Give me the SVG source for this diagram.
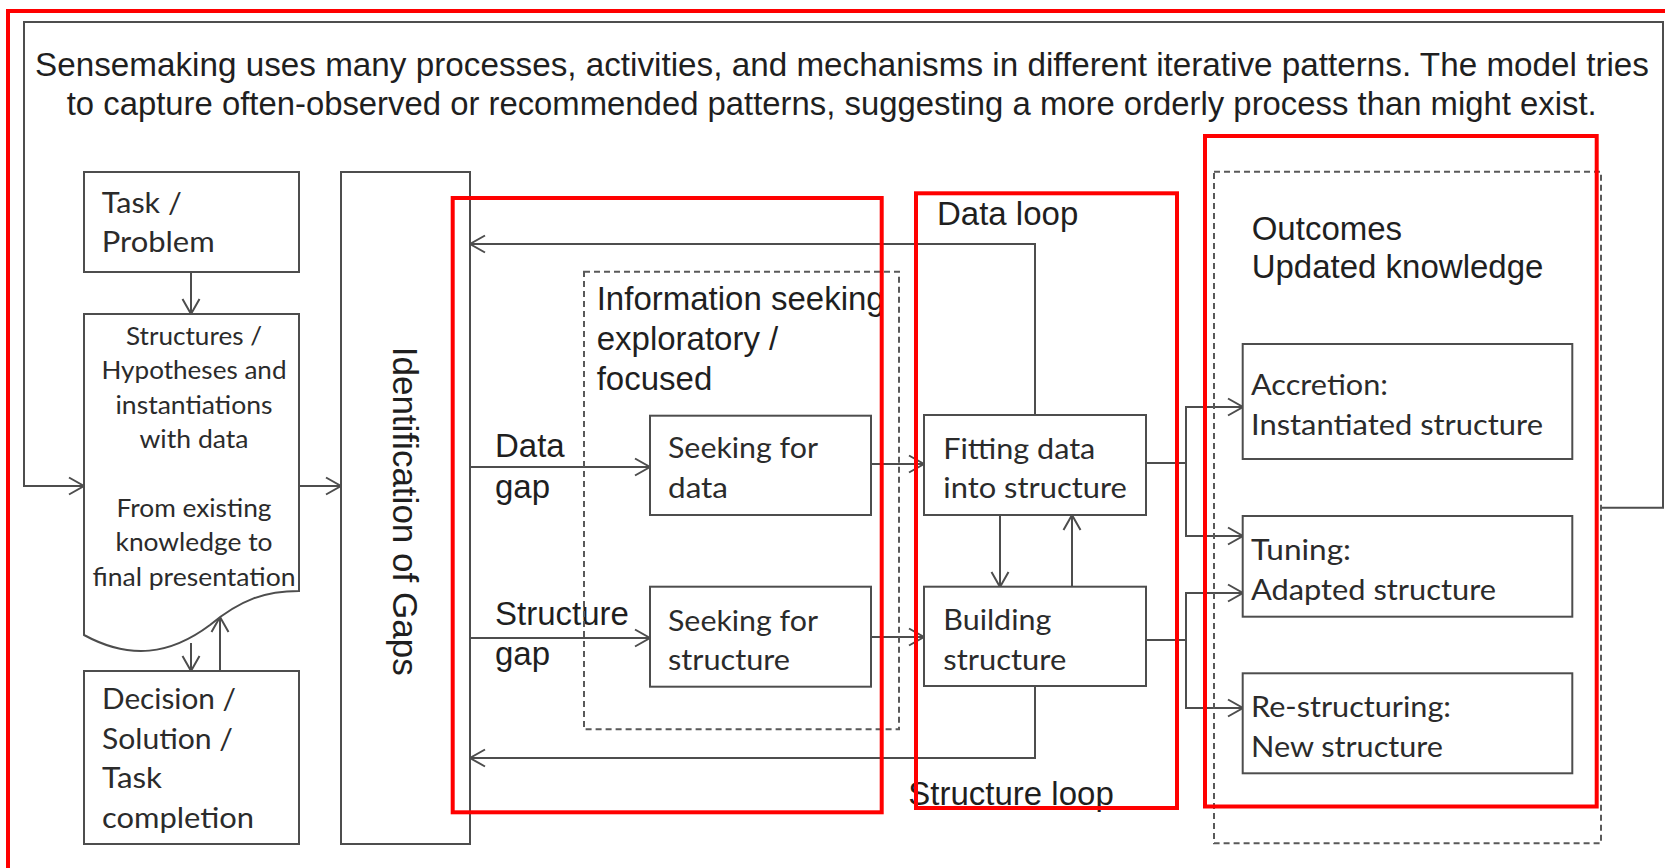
<svg xmlns="http://www.w3.org/2000/svg" width="1665" height="868" viewBox="0 0 1665 868">
<defs>
<style>
.bx{fill:#fff;stroke:#4d4d4d;stroke-width:2}
.ds{fill:none;stroke:#595959;stroke-width:2;stroke-dasharray:6 4}
.rd{fill:none;stroke:#ff0000;stroke-width:4}
.c{fill:none;stroke:#4d4d4d;stroke-width:2}
.a{marker-end:url(#arr)}
.ar{font-family:"Liberation Sans",Arial,sans-serif;font-size:33px;fill:#1f1f1f}
.cb{font-family:Lato,"Noto Sans",sans-serif;font-size:29.7px;fill:#2b2b2b}
.cs{font-family:Lato,"Noto Sans",sans-serif;font-size:25.4px;fill:#2b2b2b;text-anchor:middle}
</style>
<marker id="arr" viewBox="-18 -11 20 22" markerWidth="20" markerHeight="22" refX="0" refY="0" orient="auto" markerUnits="userSpaceOnUse">
<path d="M-15,-8.5 L0,0 L-15,8.5" fill="none" stroke="#4d4d4d" stroke-width="2"/>
</marker>
</defs>
<rect width="1665" height="868" fill="#fff"/>

<g id="title">
<text class="ar" style="font-size:34px" x="35" y="75.5" textLength="1614" lengthAdjust="spacingAndGlyphs">Sensemaking uses many processes, activities, and mechanisms in different iterative patterns. The model tries</text>
<text class="ar" style="font-size:34px" x="66.7" y="115" textLength="1530" lengthAdjust="spacingAndGlyphs">to capture often-observed or recommended patterns, suggesting a more orderly process than might exist.</text>
</g>

<g id="connectors">
<path class="c a" d="M1601,507.7 H1663 V22 H24 V486 H84"/>
<path class="c a" d="M191,272 V314"/>
<path class="c a" d="M299,486 H341"/>
<path class="c a" d="M191,643 V671"/>
<path class="c a" d="M220,671 V617"/>
<path class="c a" d="M470,467 H650"/>
<path class="c a" d="M470,638 H650"/>
<path class="c a" d="M871,464 H924"/>
<path class="c a" d="M871,637 H924"/>
<path class="c a" d="M1000,515 V587"/>
<path class="c a" d="M1072,587 V515"/>
<path class="c a" d="M1035,415 V244 H470"/>
<path class="c a" d="M1035,686 V758 H470"/>
<path class="c" d="M1146,463 H1186 M1146,640 H1186"/>
<path class="c a" d="M1186,463 V407 H1243"/>
<path class="c a" d="M1186,463 V536 H1243"/>
<path class="c a" d="M1186,640 V593 H1243"/>
<path class="c a" d="M1186,640 V708 H1243"/>
</g>

<g id="task">
<rect class="bx" x="84" y="172" width="215" height="100"/>
<text class="cb" x="101.7" y="212.7" textLength="80" lengthAdjust="spacingAndGlyphs">Task /</text>
<text class="cb" x="101.7" y="251.7" textLength="113" lengthAdjust="spacingAndGlyphs">Problem</text>
</g>

<g id="structures">
<path class="bx" d="M84,314 H299 V591 C265,591 240,600 210,625 C170,655 130,660 84,635 Z"/>
<text class="cs" x="194" y="345" textLength="136" lengthAdjust="spacingAndGlyphs">Structures /</text>
<text class="cs" x="194" y="379.4" textLength="185" lengthAdjust="spacingAndGlyphs">Hypotheses and</text>
<text class="cs" x="194" y="413.8" textLength="157" lengthAdjust="spacingAndGlyphs">instantiations</text>
<text class="cs" x="194" y="448.2" textLength="109" lengthAdjust="spacingAndGlyphs">with data</text>
<text class="cs" x="194" y="517" textLength="155" lengthAdjust="spacingAndGlyphs">From existing</text>
<text class="cs" x="194" y="551.4" textLength="157" lengthAdjust="spacingAndGlyphs">knowledge to</text>
<text class="cs" x="194" y="585.8" textLength="203" lengthAdjust="spacingAndGlyphs">final presentation</text>
</g>

<g id="decision">
<rect class="bx" x="84" y="671" width="215" height="173"/>
<text class="cb" x="102" y="709" textLength="134" lengthAdjust="spacingAndGlyphs">Decision /</text>
<text class="cb" x="102" y="748.5" textLength="131" lengthAdjust="spacingAndGlyphs">Solution /</text>
<text class="cb" x="102" y="788" textLength="60" lengthAdjust="spacingAndGlyphs">Task</text>
<text class="cb" x="102" y="827.5" textLength="152" lengthAdjust="spacingAndGlyphs">completion</text>
</g>

<g id="identification">
<rect class="bx" x="341" y="172" width="129" height="672"/>
<text class="ar" style="font-size:35px" transform="translate(393,346.7) rotate(90)" textLength="329" lengthAdjust="spacingAndGlyphs">Identification of Gaps</text>
</g>

<g id="gap-labels">
<text class="ar" x="495" y="457">Data</text>
<text class="ar" x="495" y="498">gap</text>
<text class="ar" x="495" y="625">Structure</text>
<text class="ar" x="495" y="665">gap</text>
</g>

<g id="info-seeking">
<rect class="ds" x="584" y="271.7" width="315" height="457.6"/>
<text class="ar" x="596.7" y="309.5">Information seeking</text>
<text class="ar" x="596.7" y="349.5">exploratory /</text>
<text class="ar" x="596.7" y="389.5">focused</text>
</g>

<g id="seek-data">
<rect class="bx" x="650" y="415.7" width="221" height="99.3"/>
<text class="cb" x="668" y="458" textLength="150" lengthAdjust="spacingAndGlyphs">Seeking for</text>
<text class="cb" x="668" y="498" textLength="60" lengthAdjust="spacingAndGlyphs">data</text>
</g>

<g id="seek-structure">
<rect class="bx" x="650" y="586.7" width="221" height="100"/>
<text class="cb" x="668" y="631" textLength="150" lengthAdjust="spacingAndGlyphs">Seeking for</text>
<text class="cb" x="668" y="670" textLength="122" lengthAdjust="spacingAndGlyphs">structure</text>
</g>

<g id="fitting">
<rect class="bx" x="924" y="415" width="222" height="100"/>
<text class="cb" x="943.3" y="459" textLength="152" lengthAdjust="spacingAndGlyphs">Fitting data</text>
<text class="cb" x="943.3" y="498.3" textLength="183.5" lengthAdjust="spacingAndGlyphs">into structure</text>
</g>

<g id="building">
<rect class="bx" x="924" y="586.7" width="222" height="99.3"/>
<text class="cb" x="943.3" y="630" textLength="108" lengthAdjust="spacingAndGlyphs">Building</text>
<text class="cb" x="943.3" y="670" textLength="123" lengthAdjust="spacingAndGlyphs">structure</text>
</g>

<g id="loop-labels">
<text class="ar" x="937" y="225">Data loop</text>
<text class="ar" x="908.3" y="805">Structure loop</text>
</g>

<g id="outcomes">
<rect class="ds" x="1214" y="171.7" width="387" height="671.6"/>
<text class="ar" x="1251.7" y="239.5">Outcomes</text>
<text class="ar" x="1251.7" y="278">Updated knowledge</text>
</g>

<g id="accretion">
<rect class="bx" x="1242.7" y="344" width="329.6" height="115"/>
<text class="cb" x="1251" y="395" textLength="137" lengthAdjust="spacingAndGlyphs">Accretion:</text>
<text class="cb" x="1251" y="435" textLength="292" lengthAdjust="spacingAndGlyphs">Instantiated structure</text>
</g>

<g id="tuning">
<rect class="bx" x="1242.7" y="516" width="329.6" height="100.7"/>
<text class="cb" x="1251" y="560" textLength="100" lengthAdjust="spacingAndGlyphs">Tuning:</text>
<text class="cb" x="1251" y="600" textLength="245" lengthAdjust="spacingAndGlyphs">Adapted structure</text>
</g>

<g id="restructuring">
<rect class="bx" x="1242.7" y="673.3" width="329.6" height="100"/>
<text class="cb" x="1251" y="717.3" textLength="200" lengthAdjust="spacingAndGlyphs">Re-structuring:</text>
<text class="cb" x="1251" y="756.7" textLength="192" lengthAdjust="spacingAndGlyphs">New structure</text>
</g>

<g id="highlights">
<path class="rd" d="M8,872 V11 H1670"/>
<rect class="rd" x="452.7" y="198" width="429" height="614.3"/>
<rect class="rd" x="916" y="193.3" width="261" height="614.7"/>
<rect class="rd" x="1205" y="136" width="391.7" height="670.5"/>
</g>
</svg>
